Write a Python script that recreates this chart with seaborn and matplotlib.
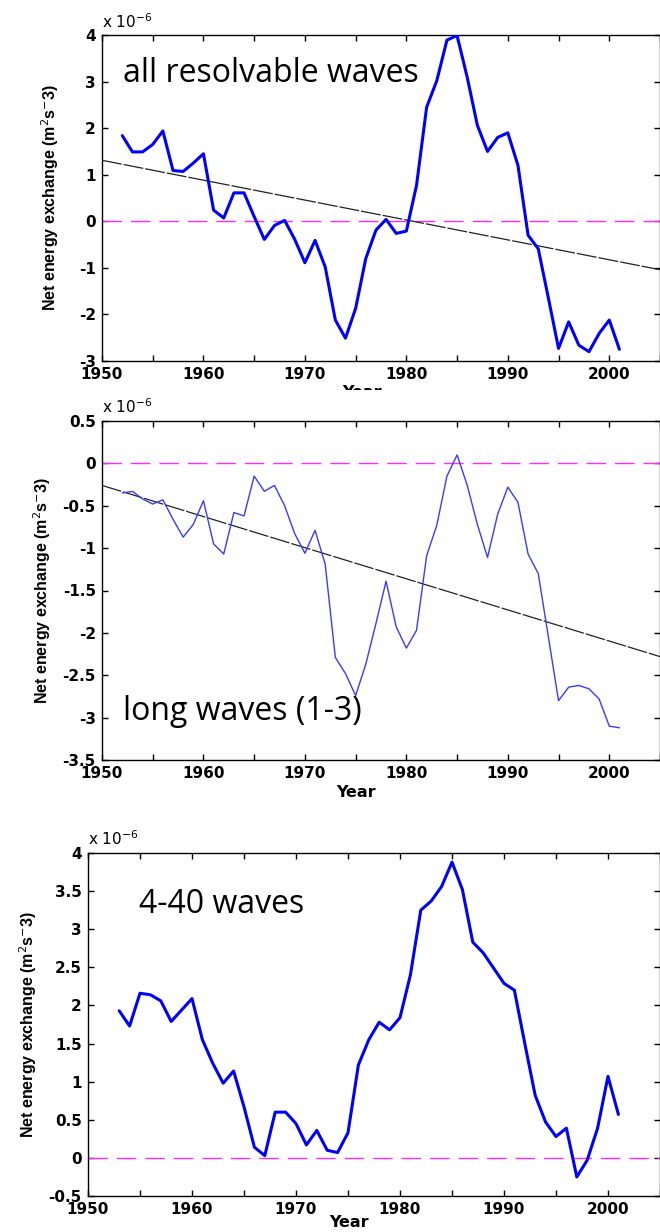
import numpy as np
import pandas as pd
import matplotlib
matplotlib.use("Agg")
import matplotlib.pyplot as plt
from matplotlib.patches import Rectangle
from matplotlib.transforms import IdentityTransform
from matplotlib.ticker import MultipleLocator, FuncFormatter
import seaborn as sns

# ---------------- data (values in units of 1e-6 m^2 s^-3) ----------------
years_all = list(range(1952, 2002))
all_waves = [1.84, 1.49, 1.49, 1.65, 1.94, 1.09, 1.07, 1.25, 1.45, 0.24,
             0.07, 0.61, 0.61, 0.10, -0.39, -0.09, 0.02, -0.39, -0.89, -0.41,
             -0.98, -2.12, -2.51, -1.87, -0.80, -0.19, 0.04, -0.26, -0.21, 0.77,
             2.45, 3.02, 3.89, 3.99, 3.09, 2.06, 1.50, 1.80, 1.90, 1.20,
             -0.30, -0.59, -1.65, -2.73, -2.16, -2.66, -2.80, -2.41, -2.12, -2.75]

years_long = list(range(1952, 2002))
long_waves = [-0.35, -0.33, -0.42, -0.48, -0.43, -0.66, -0.87, -0.72, -0.44, -0.95,
              -1.07, -0.58, -0.62, -0.15, -0.33, -0.26, -0.50, -0.83, -1.06, -0.79,
              -1.19, -2.29, -2.48, -2.74, -2.37, -1.89, -1.39, -1.93, -2.18, -1.97,
              -1.09, -0.73, -0.15, 0.10, -0.26, -0.72, -1.11, -0.60, -0.28, -0.46,
              -1.07, -1.30, -2.05, -2.80, -2.64, -2.62, -2.66, -2.78, -3.10, -3.12]

years_mid = list(range(1953, 2002))
mid_waves = [1.93, 1.73, 2.16, 2.14, 2.06, 1.79, 1.94, 2.09, 1.55, 1.24,
             0.98, 1.14, 0.67, 0.14, 0.03, 0.60, 0.60, 0.45, 0.17, 0.36,
             0.10, 0.07, 0.33, 1.22, 1.55, 1.78, 1.68, 1.84, 2.40, 3.25,
             3.37, 3.56, 3.88, 3.52, 2.83, 2.69, 2.49, 2.29, 2.20, 1.50,
             0.82, 0.47, 0.28, 0.39, -0.25, -0.03, 0.39, 1.07, 0.57]

trend_years = [1950, 2005]
trend_all = [1.31, -1.04]
trend_long = [-0.26, -2.28]

labels = ["all resolvable waves", "long waves (1-3)", "4-40 waves"]
ylims = [(-3, 4), (-3.5, 0.5), (-0.5, 4)]
ysteps = [1, 0.5, 0.5]

# ---------------- style ----------------
sns.set_style("ticks")
plt.rcParams["font.family"] = ["DejaVu Sans"]
plt.rcParams["axes.unicode_minus"] = False
plt.rcParams["axes.linewidth"] = 1.0
plt.rcParams["text.color"] = "black"
plt.rcParams["axes.labelcolor"] = "black"

W, H = 660, 1232
fig = plt.figure(figsize=(W / 100, H / 100), dpi=100)


def frac(left, right, top, bottom):
    return [left / W, 1 - bottom / H, (right - left) / W, (bottom - top) / H]


ax1 = fig.add_axes(frac(102, 660, 35, 361))
ax2 = fig.add_axes(frac(102, 660, 421, 760))
ax3 = fig.add_axes(frac(88, 660, 853, 1196))
axes = [ax1, ax2, ax3]
ax1.set_zorder(1)
ax2.set_zorder(3)
ax3.set_zorder(3)

BLUE = "#0000ff"
MAG = "#ff2bff"

df1 = pd.DataFrame({"year": years_all, "val": all_waves})
df2 = pd.DataFrame({"year": years_long, "val": long_waves})
df3 = pd.DataFrame({"year": years_mid, "val": mid_waves})

sns.lineplot(data=df1, x="year", y="val", ax=ax1, color=BLUE, linewidth=2.2, zorder=4)
sns.lineplot(data=df2, x="year", y="val", ax=ax2, color="#3a3aff", linewidth=1.0, zorder=4)
sns.lineplot(data=df3, x="year", y="val", ax=ax3, color=BLUE, linewidth=2.2, zorder=4)

for ax, tr in [(ax1, trend_all), (ax2, trend_long)]:
    sns.lineplot(x=trend_years, y=tr, ax=ax, color="#222222", linewidth=0.9,
                 zorder=3).lines[-1].set_dashes([16, 1.6])

for ax, lab, yl, ys in zip(axes, labels, ylims, ysteps):
    ax.axhline(0, color=MAG, linewidth=1.0, dashes=(14, 6.5), zorder=2)
    ax.set_xlim(1950, 2005)
    ax.set_ylim(*yl)
    ax.xaxis.set_major_locator(MultipleLocator(10))
    ax.xaxis.set_minor_locator(MultipleLocator(5))
    ax.yaxis.set_major_locator(MultipleLocator(ys))
    ax.yaxis.set_major_formatter(FuncFormatter(lambda v, p: "%g" % v))
    ax.tick_params(axis="both", which="both", direction="in", top=True, right=True,
                   length=4, width=1, pad=4.5, colors="black")
    for t in ax.get_xticklabels() + ax.get_yticklabels():
        t.set_fontfamily("DejaVu Sans")
        t.set_fontweight("bold")
        t.set_fontsize(11)
    for s in ax.spines.values():
        s.set_visible(True)
        s.set_color("black")
        s.set_linewidth(1.0)
    ax.set_ylabel(r"Net energy exchange (m$^{2}$s$^{-}$3)", family="Liberation Sans",
                  fontweight="bold", fontsize=11.5, color="black")
    ax.yaxis.label.set_va("center")
    ax.set_xlabel("Year", family="DejaVu Sans", fontweight="bold", fontsize=11.5,
                  color="black")
    ax.xaxis.label.set_va("top")
    ax.grid(False)

ax1.yaxis.set_label_coords((50 - 102) / 558, 0.5)
ax2.yaxis.set_label_coords((42 - 102) / 558, 0.5)
ax3.yaxis.set_label_coords((28 - 88) / 572, 0.5)
ax1.xaxis.set_label_coords(0.466, -(385 - 361) / 326)
ax2.xaxis.set_label_coords(0.455, -(785 - 760) / 339)
ax3.xaxis.set_label_coords(0.456, -(1215 - 1196) / 343)

# multiplier texts
for ax, (xl, yb) in zip(axes, [(102, 28), (102, 413), (88, 845)]):
    ax.annotate(r"x 10$^{-6}$", xy=(xl, H - yb), xycoords="figure pixels",
                ha="left", va="baseline", fontsize=11, family="DejaVu Sans",
                color="black", annotation_clip=False)

# panel annotations
for ax, lab, (xl, yb) in zip(axes, labels, [(123, 82), (123, 720), (139, 913)]):
    ax.annotate(lab, xy=(xl, H - yb), xycoords="figure pixels", ha="left",
                va="baseline", fontsize=23, family="Open Sans", color="black",
                annotation_clip=False, zorder=6)

# white band hiding the lower part of the first "Year" label
band = Rectangle((0, H - 421), W, 31, facecolor="white", edgecolor="none", zorder=2)
band.set_transform(IdentityTransform())
fig.patches.append(band)

fig.savefig("out.png", dpi=100, facecolor="white")
